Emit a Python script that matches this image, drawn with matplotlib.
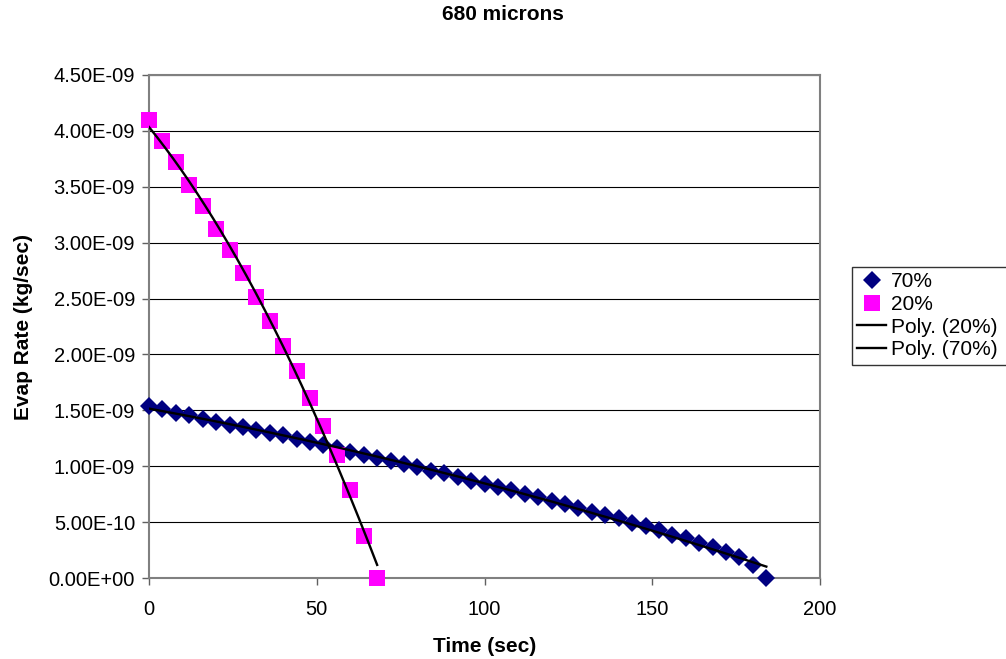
import matplotlib
matplotlib.use("Agg")
import matplotlib.pyplot as plt
import numpy as np
from matplotlib.ticker import FuncFormatter, MultipleLocator

plt.rcParams['font.family'] = ['Liberation Sans', 'DejaVu Sans']

# 20% humidity run (kg/sec), sampled every 4 s
t_20 = list(range(0, 72, 4))
rate_20 = [4.10e-9, 3.91e-9, 3.72e-9, 3.515e-9, 3.33e-9, 3.12e-9, 2.93e-9, 2.73e-9, 2.51e-9,
           2.30e-9, 2.075e-9, 1.85e-9, 1.61e-9, 1.36e-9, 1.10e-9, 0.787e-9, 0.376e-9, 0.0]

# 70% humidity run
t_70 = list(range(0, 188, 4))
rate_70 = [1.54, 1.51, 1.48, 1.455, 1.425, 1.40, 1.37, 1.35, 1.32, 1.30, 1.275, 1.245,
           1.215, 1.19, 1.16, 1.13, 1.10, 1.07, 1.05, 1.02, 0.99, 0.96, 0.935, 0.905,
           0.872, 0.842, 0.812, 0.783, 0.753, 0.723, 0.693, 0.658, 0.622, 0.592, 0.562,
           0.533, 0.491, 0.461, 0.426, 0.384, 0.354, 0.312, 0.277, 0.229, 0.188, 0.116, 0.0]
rate_70 = [v * 1e-9 for v in rate_70]

x_ticks = [0, 50, 100, 150, 200]

fig = plt.figure(figsize=(10.06, 6.59), dpi=100)
ax = fig.add_axes([149 / 1006, 1 - 578 / 659, (820 - 149) / 1006, (578 - 75) / 659])

ax.plot(t_70, rate_70, 'D', color='#000080', markersize=9, markeredgewidth=0,
        clip_on=False, zorder=3, label='70%')
ax.plot(t_20, rate_20, 's', color='#FF00FF', markersize=11.5, markeredgewidth=0,
        clip_on=False, zorder=3, label='20%')

# Excel-style 2nd order polynomial trendlines
for t, r, name in [(t_20, rate_20, 'Poly. (20%)'), (t_70, rate_70, 'Poly. (70%)')]:
    coef = np.polyfit(t, r, 2)
    xs = np.linspace(min(t), max(t), 200)
    ax.plot(xs, np.polyval(coef, xs), color='black', lw=1.7, zorder=4, label=name)

ax.set_xlim(0, 200)
ax.set_ylim(0, 4.5e-9)
ax.set_xticks(x_ticks)
ax.yaxis.set_major_locator(MultipleLocator(5e-10))
ax.yaxis.set_major_formatter(FuncFormatter(lambda v, p: '%.2E' % v))
ax.yaxis.grid(True, color='black', lw=0.8)
ax.set_axisbelow(True)

for s in ax.spines.values():
    s.set_color('#808080')
    s.set_linewidth(1.5)
ax.tick_params(axis='both', colors='#606060', length=5, width=1, labelcolor='black', labelsize=14.5)
ax.tick_params(axis='y', pad=5)
ax.tick_params(axis='x', pad=11)

ax.set_xlabel('Time (sec)', fontsize=15, fontweight='bold')
ax.xaxis.set_label_coords(0.5, -(637 - 578) / 503)
ax.set_ylabel('Evap Rate (kg/sec)', fontsize=15, fontweight='bold')
ax.yaxis.set_label_coords(-(149 - 33) / 671, 0.5)
fig.text(503 / 1006, 1 - 15 / 659, '680 microns', ha='center', va='center',
         fontsize=15, fontweight='bold')

leg = ax.legend(loc='upper left', bbox_to_anchor=(852 / 1006, 1 - 267 / 659, 170 / 1006, 0),
                bbox_transform=fig.transFigure, mode='expand', borderaxespad=0,
                fancybox=False, edgecolor='black', fontsize=15, handlelength=1.4,
                handletextpad=0.2, labelspacing=0.18, borderpad=0.25)
leg.get_frame().set_linewidth(1)

fig.savefig('out.png', dpi=100)
